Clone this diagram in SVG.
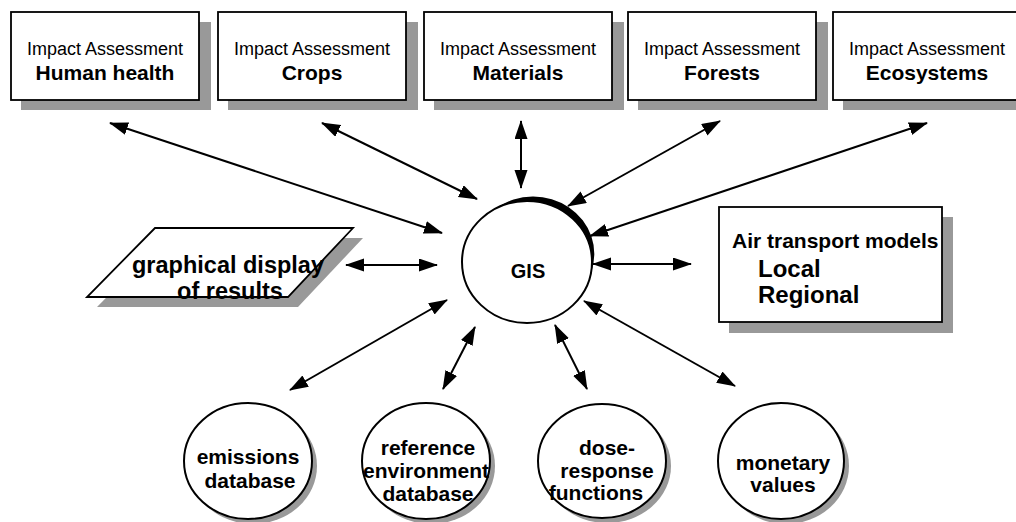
<svg xmlns="http://www.w3.org/2000/svg" width="1016" height="522" viewBox="0 0 1016 522">
<defs>
<marker id="ah" markerUnits="userSpaceOnUse" markerWidth="20" markerHeight="14" refX="18" refY="6.5" orient="auto-start-reverse">
<path d="M0,0 L19,6.5 L0,13 Z" fill="#000"/>
</marker>
</defs>
<style>
.box{fill:#fff;stroke:#000;stroke-width:1.8}
.sh{fill:#999;stroke:none}
.t1{font-family:"Liberation Sans",Arial,sans-serif;font-size:18px;text-anchor:middle;fill:#000}
.t2{font-family:"Liberation Sans",Arial,sans-serif;font-size:21px;font-weight:bold;text-anchor:middle;fill:#000}
.tb{font-family:"Liberation Sans",Arial,sans-serif;font-weight:bold;fill:#000}
.c{stroke:#000;stroke-width:2;fill:none;marker-start:url(#ah);marker-end:url(#ah)}
</style>
<rect width="1016" height="522" fill="#fff"/>

<g id="ia-human">
<rect class="sh" x="21" y="22" width="190" height="88"/>
<rect class="box" x="11" y="12" width="188" height="88"/>
<text class="t1" x="105" y="55">Impact Assessment</text>
<text class="t2" x="105" y="80">Human health</text>
</g>
<g id="ia-crops">
<rect class="sh" x="228" y="22" width="190" height="88"/>
<rect class="box" x="218" y="12" width="188" height="88"/>
<text class="t1" x="312" y="55">Impact Assessment</text>
<text class="t2" x="312" y="80">Crops</text>
</g>
<g id="ia-materials">
<rect class="sh" x="434" y="22" width="190" height="88"/>
<rect class="box" x="424" y="12" width="188" height="88"/>
<text class="t1" x="518" y="55">Impact Assessment</text>
<text class="t2" x="518" y="80">Materials</text>
</g>
<g id="ia-forests">
<rect class="sh" x="638" y="22" width="190" height="88"/>
<rect class="box" x="628" y="12" width="188" height="88"/>
<text class="t1" x="722" y="55">Impact Assessment</text>
<text class="t2" x="722" y="80">Forests</text>
</g>
<g id="ia-ecosystems">
<rect class="sh" x="843" y="22" width="190" height="88"/>
<rect class="box" x="833" y="12" width="188" height="88"/>
<text class="t1" x="927" y="55">Impact Assessment</text>
<text class="t2" x="927" y="80">Ecosystems</text>
</g>

<g id="gis">
<ellipse cx="527" cy="262" rx="65" ry="61" fill="#fff" stroke="#000" stroke-width="2"/>
<path d="M496.5,208.1 A61,57.5 0 0 1 591,272.6 A65,61 0 0 0 496.5,208.1 Z" fill="#000"/>
<text class="tb" x="528" y="278" font-size="20" text-anchor="middle">GIS</text>
</g>

<g id="graphical-display">
<polygon class="sh" points="165,238 363,238 298,307 97,307"/>
<polygon points="155,228 353,228 288,297 87,297" fill="#fff" stroke="#000" stroke-width="1.8"/>
<text class="tb" font-size="23.5" x="228" y="273" text-anchor="middle">graphical display</text>
<text class="tb" font-size="23.5" x="230" y="299" text-anchor="middle">of results</text>
</g>

<g id="air-transport">
<rect class="sh" x="729" y="217" width="224" height="116"/>
<rect class="box" x="719" y="207" width="223" height="115"/>
<text class="tb" font-size="21" x="732" y="248">Air transport models</text>
<text class="tb" font-size="24" x="758" y="277">Local</text>
<text class="tb" font-size="24" x="758" y="303">Regional</text>
</g>

<g id="emissions">
<ellipse cx="253" cy="466" rx="64" ry="58" fill="#999"/>
<ellipse cx="248" cy="461" rx="64" ry="58" fill="#fff" stroke="#000" stroke-width="2"/>
<text class="tb" font-size="21" x="248" y="464" text-anchor="middle">emissions</text>
<text class="tb" font-size="21" x="250" y="488" text-anchor="middle">database</text>
</g>
<g id="reference">
<ellipse cx="431" cy="466" rx="64" ry="58" fill="#999"/>
<ellipse cx="426" cy="461" rx="64" ry="58" fill="#fff" stroke="#000" stroke-width="2"/>
<text class="tb" font-size="21" x="428" y="455" text-anchor="middle">reference</text>
<text class="tb" font-size="21" x="426" y="478" text-anchor="middle">environment</text>
<text class="tb" font-size="21" x="428" y="501" text-anchor="middle">database</text>
</g>
<g id="dose-response">
<ellipse cx="607" cy="466" rx="64" ry="57" fill="#999"/>
<ellipse cx="602" cy="461" rx="64" ry="57" fill="#fff" stroke="#000" stroke-width="2"/>
<text class="tb" font-size="21" x="607" y="455" text-anchor="middle">dose-</text>
<text class="tb" font-size="21" x="607" y="478" text-anchor="middle">response</text>
<text class="tb" font-size="21" x="596" y="500" text-anchor="middle">functions</text>
</g>
<g id="monetary">
<ellipse cx="786" cy="466" rx="63" ry="58" fill="#999"/>
<ellipse cx="781" cy="461" rx="63" ry="58" fill="#fff" stroke="#000" stroke-width="2"/>
<text class="tb" font-size="21" x="783" y="470" text-anchor="middle">monetary</text>
<text class="tb" font-size="21" x="783" y="492" text-anchor="middle">values</text>
</g>

<g id="connectors">
<line class="c" x1="110" y1="123" x2="442" y2="233"/>
<line class="c" x1="322" y1="123" x2="477" y2="199"/>
<line class="c" x1="521" y1="121" x2="521" y2="188"/>
<line class="c" x1="720" y1="121" x2="568" y2="206"/>
<line class="c" x1="927" y1="123" x2="590" y2="236"/>
<line class="c" x1="346" y1="265" x2="437" y2="265"/>
<line class="c" x1="593" y1="264" x2="691" y2="264"/>
<line class="c" x1="447" y1="300" x2="290" y2="390"/>
<line class="c" x1="475" y1="327" x2="443" y2="389"/>
<line class="c" x1="555" y1="325" x2="587" y2="389"/>
<line class="c" x1="584" y1="301" x2="735" y2="386"/>
</g>
</svg>
